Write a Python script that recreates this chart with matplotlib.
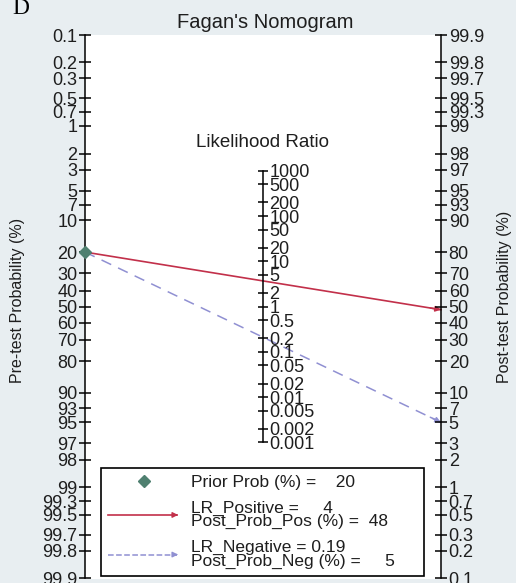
import numpy as np
import matplotlib
matplotlib.use("Agg")
import matplotlib.pyplot as plt
from matplotlib.lines import Line2D
from matplotlib.legend_handler import HandlerBase
from matplotlib.patches import FancyArrowPatch
from matplotlib.ticker import NullLocator

# ---------------- data ----------------
prior_prob = 20          # %
lr_positive = 4
post_prob_pos = 48       # %
lr_negative = 0.19
post_prob_neg = 5        # %

pre_ticks = [0.1, 0.2, 0.3, 0.5, 0.7, 1, 2, 3, 5, 7, 10, 20, 30, 40, 50, 60, 70,
             80, 90, 93, 95, 97, 98, 99, 99.3, 99.5, 99.7, 99.8, 99.9]
post_ticks = [0.1, 0.2, 0.3, 0.5, 0.7, 1, 2, 3, 5, 7, 10, 20, 30, 40, 50, 60, 70,
              80, 90, 93, 95, 97, 98, 99, 99.3, 99.5, 99.7, 99.8, 99.9]
lr_ticks = [1000, 500, 200, 100, 50, 20, 10, 5, 2, 1, 0.5, 0.2, 0.1, 0.05, 0.02,
            0.01, 0.005, 0.002, 0.001]

# ---------------- style ----------------
plt.rcParams['font.family'] = ['Liberation Sans', 'DejaVu Sans']
BG = '#e8eef1'
RED = '#c2304a'
BLUE = '#9090d2'
GREEN = '#4f8070'
TXT = '#1e1e1e'
W, H = 516, 583
TICK_FS = 13


def logit(p):
    p = np.asarray(p, dtype=float)
    return np.log(p / (1 - p))


def fmt(v):
    return ('%g' % v)


L = float(logit(0.999))

fig = plt.figure(figsize=(W / 100, H / 100), dpi=100, facecolor=BG)
ax = fig.add_axes([85 / W, 1 - 579 / H, (441 - 85) / W, (579 - 35) / H])
ax.set_facecolor('white')
ax.set_xlim(0, 1)
ax.set_ylim(-L * 1.003, L)
for s in ['top', 'bottom', 'right']:
    ax.spines[s].set_visible(False)
ax.spines['left'].set_bounds(-L, L)
ax.spines['left'].set_linewidth(1.1)
ax.set_xticks([])
ax.set_yticks(-logit(np.array(pre_ticks) / 100))
ax.set_yticklabels([fmt(v) for v in pre_ticks])
ax.tick_params(axis='y', direction='inout', length=8, width=1.1, pad=1.5,
               labelsize=TICK_FS, labelcolor=TXT)

# right axis (post-test)
ax2 = ax.twinx()
ax2.set_ylim(ax.get_ylim())
for s in ['top', 'bottom', 'left']:
    ax2.spines[s].set_visible(False)
ax2.spines['right'].set_bounds(-L, L)
ax2.spines['right'].set_linewidth(1.1)
ax2.set_yticks(logit(np.array(post_ticks) / 100))
ax2.set_yticklabels([fmt(v) for v in post_ticks])
ax2.tick_params(axis='y', direction='inout', length=8, width=1.1, pad=1.5,
                labelsize=TICK_FS, labelcolor=TXT)

# middle axis (likelihood ratio)
ax3 = ax.twinx()
ax3.set_yscale('log')
ax3.set_ylim(np.exp(-2 * L * 1.003), np.exp(2 * L))
for s in ['top', 'bottom', 'left']:
    ax3.spines[s].set_visible(False)
ax3.spines['right'].set_position(('axes', 0.5))
ax3.spines['right'].set_bounds(min(lr_ticks), max(lr_ticks))
ax3.spines['right'].set_linewidth(1.1)
ax3.set_yticks(lr_ticks)
ax3.set_yticklabels([fmt(v) for v in lr_ticks])
ax3.yaxis.set_minor_locator(NullLocator())
ax3.tick_params(axis='y', which='major', direction='inout', length=6.5, width=1.1,
                pad=1.5, labelsize=TICK_FS, labelcolor=TXT)

# ---------------- lines ----------------
y_pre = -float(logit(prior_prob / 100))
y_pos = float(logit(post_prob_pos / 100))
y_neg = float(logit(post_prob_neg / 100))

ax.plot([0, 1], [y_pre, y_pos], color=RED, lw=1.2, zorder=3, clip_on=False)
ax.plot([0, 1], [y_pre, y_neg], color=BLUE, lw=1.1, ls=(0, (7, 5)), zorder=3,
        clip_on=False)
for yend, col in [(y_pos, RED), (y_neg, BLUE)]:
    ax.annotate('', xy=(1, yend), xytext=(0.97, y_pre + (yend - y_pre) * 0.97),
                arrowprops=dict(arrowstyle='-|>', color=col, lw=1.1,
                                mutation_scale=8, shrinkA=0, shrinkB=0),
                zorder=4, annotation_clip=False)
ax.plot([0], [y_pre], marker='D', color=GREEN, ms=6, ls='none', zorder=5,
        clip_on=False)


# ---------------- legend ----------------
class HandlerArrow(HandlerBase):
    def create_artists(self, legend, orig_handle, xdescent, ydescent, width,
                       height, fontsize, trans):
        y = height / 2 - ydescent
        line = Line2D([-xdescent, -xdescent + width - 3], [y, y],
                      color=orig_handle.get_color(),
                      lw=orig_handle.get_linewidth(),
                      ls=orig_handle.get_linestyle(), transform=trans)
        arr = FancyArrowPatch((-xdescent + width - 6, y), (-xdescent + width, y),
                              arrowstyle='-|>', mutation_scale=8,
                              color=orig_handle.get_color(), lw=1.0,
                              transform=trans)
        return [line, arr]


h_prior = Line2D([], [], marker='D', color=GREEN, ms=6, ls='none')
h_pos = Line2D([], [], color=RED, lw=1.2)
h_neg = Line2D([], [], color=BLUE, lw=1.1, ls=(0, (5, 4)))
labels = [
    'Prior Prob (%%) =    %g' % prior_prob,
    'LR_Positive =     %g\nPost_Prob_Pos (%%) =  %g' % (lr_positive, post_prob_pos),
    'LR_Negative = %g\nPost_Prob_Neg (%%) =     %g' % (lr_negative, post_prob_neg),
]
leg = fig.legend([h_prior, h_pos, h_neg], labels,
                 loc='lower left',
                 bbox_to_anchor=(101 / W, 1 - 576 / H, (424 - 101) / W, 0.1),
                 mode='expand', fontsize=12.5, frameon=True, fancybox=False,
                 edgecolor='black', facecolor='white', framealpha=1,
                 borderpad=0.4, labelspacing=0.62, handlelength=4.2,
                 handletextpad=0.6, borderaxespad=0,
                 handler_map={h_pos: HandlerArrow(), h_neg: HandlerArrow()})
leg.get_frame().set_linewidth(1.2)
for t in leg.get_texts():
    t.set_linespacing(0.88)
    t.set_color(TXT)

# ---------------- text ----------------
fig.text(265 / W, 1 - 22 / H, "Fagan's Nomogram", ha='center', va='center',
         fontsize=14.5, color=TXT)
fig.text(263 / W, 1 - 143 / H, 'Likelihood Ratio', ha='center', va='center',
         fontsize=13.5, color=TXT)
fig.text(18 / W, 1 - 300 / H, 'Pre-test Probability (%)', rotation=90,
         ha='center', va='center', fontsize=11.5, color=TXT)
fig.text(505 / W, 1 - 297 / H, 'Post-test Probability (%)', rotation=90,
         ha='center', va='center', fontsize=11.5, color=TXT)
fig.text(12 / W, 1 - 14 / H, 'D', ha='left', va='baseline', fontsize=17,
         family=['Liberation Serif', 'DejaVu Serif'], color='black')

fig.savefig('out.png', dpi=100, facecolor=BG)
